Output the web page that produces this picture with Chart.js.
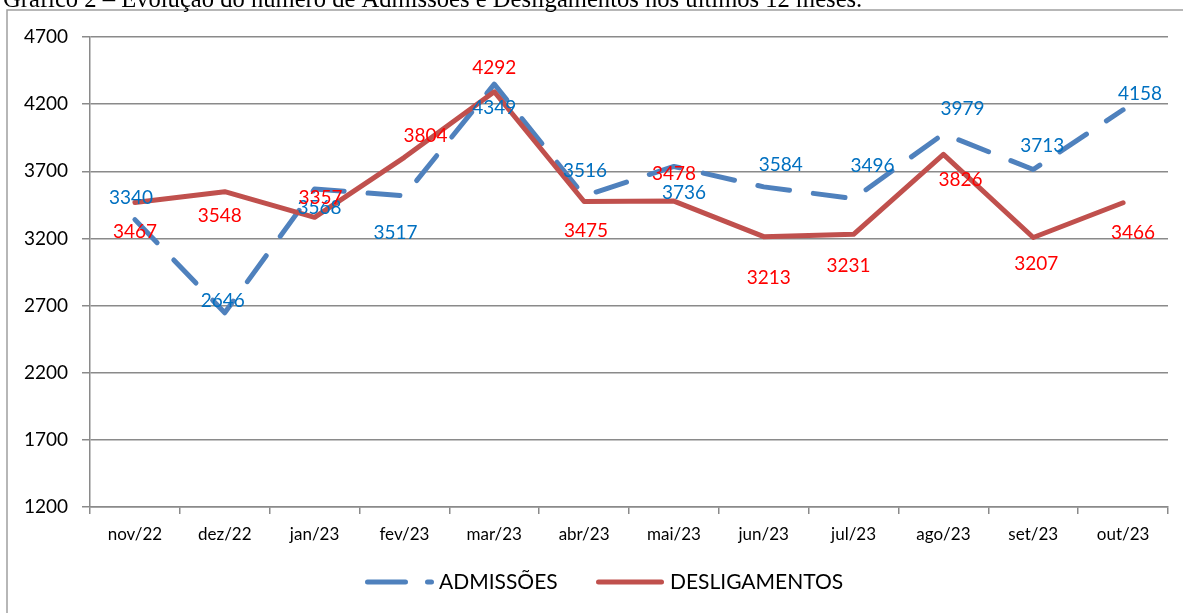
<!DOCTYPE html>
<html>
<head>
<meta charset="utf-8">
<script src="https://cdn.jsdelivr.net/npm/chart.js@4.4.0/dist/chart.umd.min.js"></script>
<style>
  html, body { margin: 0; padding: 0; background: #fff; }
  #wrap { position: relative; width: 1183px; height: 613px; overflow: hidden; }
</style>
</head>
<body>
<div id="wrap"><canvas id="grafico" width="1183" height="613"></canvas></div>
<script>
// Dados
const meses = ["nov/22", "dez/22", "jan/23", "fev/23", "mar/23", "abr/23",
  "mai/23", "jun/23", "jul/23", "ago/23", "set/23", "out/23"];
const admissoes = [3340, 2646, 3568, 3517, 4349, 3516, 3736, 3584, 3496, 3979, 3713, 4158];
const desligamentos = [3467, 3548, 3357, 3804, 4292, 3475, 3478, 3213, 3231, 3826, 3207, 3466];
const yMin = 1200, yMax = 4700, yPasso = 500;

const titulo = "Gráfico 2 – Evolução do número de Admissões e Desligamentos nos últimos 12 meses.";

// deslocamento dos rótulos em relação ao ponto (px), como no original
const posRotAdm = [[-4, -22], [-2, -12], [5, 19], [-9, 37], [0, 24], [1, -25],
  [10, 26], [17, -22], [19, -33], [19, -25], [9, -24], [17, -16]];
const posRotDes = [[0, 29], [-5, 24], [6, -19], [21, -21], [0, -24], [2, 29],
  [0, -27], [5, 41], [-5, 32], [17, 26], [3, 26], [10, 30]];

const fonte = "Lato, 'Noto Sans', sans-serif";

// rótulos de dados, título, moldura e legenda
const extras = {
  id: "extras",
  afterDatasetsDraw(chart) {
    const ctx = chart.ctx;
    ctx.save();
    ctx.font = "19px " + fonte;
    ctx.textAlign = "center";
    ctx.textBaseline = "middle";
    chart.data.datasets.forEach((ds, i) => {
      const meta = chart.getDatasetMeta(i);
      meta.data.forEach((pt, j) => {
        const off = ds.posRot[j];
        ctx.fillStyle = ds.corRotulo;
        ctx.fillText(ds.data[j], pt.x + off[0], pt.y + off[1]);
      });
    });
    ctx.restore();
  },
  afterDraw(chart) {
    const ctx = chart.ctx;
    ctx.save();
    // moldura
    ctx.strokeStyle = "#a0a0a0";
    ctx.lineWidth = 1.5;
    ctx.beginPath();
    ctx.moveTo(7, 613);
    ctx.lineTo(7, 10);
    ctx.lineTo(1183, 10);
    ctx.stroke();

    // título (cortado no topo)
    ctx.fillStyle = "#000";
    ctx.font = "24.6px 'Liberation Serif', 'Times New Roman', serif";
    ctx.textAlign = "left";
    ctx.textBaseline = "alphabetic";
    ctx.fillText(titulo, 3, 7);

    // legenda
    const y = 582;
    ctx.lineCap = "round";
    ctx.lineWidth = 5;
    ctx.strokeStyle = "#4F81BD";
    ctx.setLineDash([38, 22]);
    ctx.beginPath();
    ctx.moveTo(367.5, y);
    ctx.lineTo(431.5, y);
    ctx.stroke();
    ctx.setLineDash([]);
    ctx.strokeStyle = "#C0504D";
    ctx.beginPath();
    ctx.moveTo(598.5, y);
    ctx.lineTo(661.5, y);
    ctx.stroke();
    ctx.fillStyle = "#000";
    ctx.font = "21px " + fonte;
    ctx.textBaseline = "middle";
    ctx.fillText("ADMISSÕES", 439, y);
    ctx.fillText("DESLIGAMENTOS", 670, y);
    ctx.restore();
  }
};

new Chart(document.getElementById("grafico"), {
  type: "line",
  data: {
    labels: meses,
    datasets: [
      {
        label: "ADMISSÕES",
        data: admissoes,
        borderColor: "#4F81BD",
        borderWidth: 5,
        borderDash: [32, 24],
        borderCapStyle: "round",
        borderJoinStyle: "round",
        pointRadius: 0,
        tension: 0,
        order: 1,
        corRotulo: "#0070C0",
        posRot: posRotAdm,
      },
      {
        label: "DESLIGAMENTOS",
        data: desligamentos,
        borderColor: "#C0504D",
        borderWidth: 5,
        borderCapStyle: "round",
        borderJoinStyle: "round",
        pointRadius: 0,
        tension: 0,
        order: 0,
        corRotulo: "#FF0000",
        posRot: posRotDes,
      },
    ],
  },
  options: {
    responsive: false,
    animation: false,
    layout: { padding: { left: 0, right: 15, top: 37, bottom: 0 } },
    plugins: {
      legend: { display: false },
      tooltip: { enabled: false },
    },
    scales: {
      x: {
        offset: true,
        afterFit: (s) => { s.height = 106; },
        grid: {
          offset: true,
          drawOnChartArea: false,
          tickLength: 7,
          color: "#8a8a8a",
          lineWidth: 1.5,
        },
        border: { color: "#8a8a8a", width: 1.5 },
        ticks: {
          color: "#000",
          font: { family: fonte, size: 17 },
          padding: 10,
          maxRotation: 0,
        },
      },
      y: {
        min: yMin,
        max: yMax,
        afterFit: (s) => { s.width = 90; },
        grid: {
          color: "#8a8a8a",
          lineWidth: 1.5,
          tickLength: 8,
        },
        border: { color: "#8a8a8a", width: 1.5 },
        ticks: {
          stepSize: yPasso,
          color: "#000",
          font: { family: fonte, size: 19 },
          padding: 14,
          callback: (v) => String(v),
        },
      },
    },
  },
  plugins: [extras],
});
</script>
</body>
</html>
